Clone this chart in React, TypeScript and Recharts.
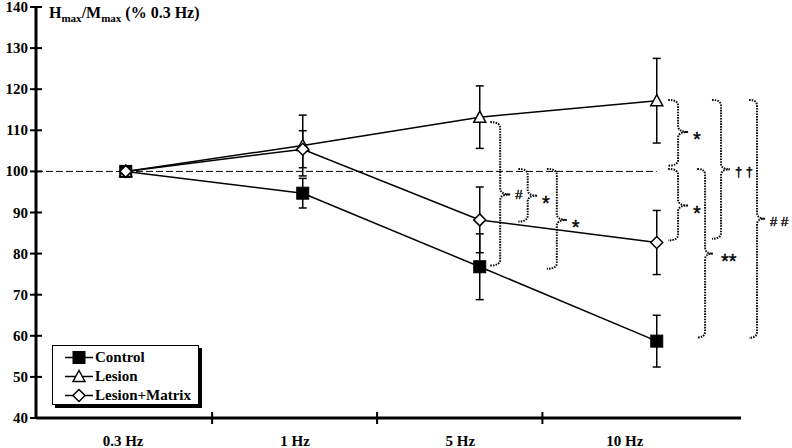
import React from "react"
import {
  LineChart,
  Line,
  XAxis,
  YAxis,
  ErrorBar,
  ReferenceLine,
  ReferenceArea,
  Legend,
  Customized,
} from "recharts"

// values (Hmax/Mmax as % of 0.3 Hz)
const frequencies = ["0.3 Hz", "1 Hz", "5 Hz", "10 Hz"]
const controlMean = [100, 94.7, 76.8, 58.7]
const controlSem = [0, 3.6, 8.0, 6.3]
const lesionMean = [100, 106.3, 113.2, 117.2]
const lesionSem = [0, 7.4, 7.6, 10.3]
const matrixMean = [100, 105.4, 88.2, 82.7]
const matrixSem = [0, 4.5, 8.0, 7.8]
const yTicks = [40, 50, 60, 70, 80, 90, 100, 110, 120, 130, 140]

// significance brackets: label, top value, bottom value, value at the tip
const braceLabels = ["#", "*", "*", "*", "*", "**", "† †", "# #"]
const braceTop = [112.0, 100.6, 100.6, 117.4, 100.6, 100.6, 117.4, 117.4]
const braceBottom = [77.1, 87.8, 76.3, 101.4, 83.2, 59.6, 83.6, 59.5]
const braceTip = [94.4, 94.1, 88.2, 109.6, 91.7, 80.0, 100.5, 88.5]

// layout (x axis units, 0 = first frequency)
const X_MIN = -0.507
const X_MAX = 3.476
const labelPos = [-0.015, 0.957, 1.89, 2.82]
const boundaryPos = [0.488, 1.42, 2.354]
const braceX = [
  [2.059, 2.172],
  [2.218, 2.324],
  [2.379, 2.492],
  [3.064, 3.177],
  [3.064, 3.177],
  [3.228, 3.318],
  [3.312, 3.414],
  [3.521, 3.612],
]

const SERIF = '"Liberation Serif", "Times New Roman", serif'
const SANS = '"Liberation Sans", Arial, sans-serif'

const rows = frequencies.map((f, i) => ({
  x: i,
  name: f,
  control: controlMean[i],
  controlErr: controlSem[i],
  lesion: lesionMean[i],
  lesionErr: lesionSem[i],
  matrix: matrixMean[i],
  matrixErr: matrixSem[i],
}))

const Square = (cx: number, cy: number) => (
  <rect x={cx - 6} y={cy - 6} width={12} height={12} fill="#000" stroke="#000" />
)
const Triangle = (cx: number, cy: number) => (
  <path
    d={`M${cx},${cy - 6} L${cx + 6},${cy + 5} L${cx - 6},${cy + 5} Z`}
    fill="#fff"
    stroke="#000"
    strokeWidth={1.5}
  />
)
const Diamond = (cx: number, cy: number) => (
  <path
    d={`M${cx},${cy - 6} L${cx + 6},${cy} L${cx},${cy + 6} L${cx - 6},${cy} Z`}
    fill="#fff"
    stroke="#000"
    strokeWidth={1.5}
  />
)

const markers: Record<string, (cx: number, cy: number) => React.ReactElement> = {
  Control: Square,
  Lesion: Triangle,
  "Lesion+Matrix": Diamond,
}

const dotFor = (name: string) => (props: any) => (
  <g key={`${name}-${props.index}`}>{markers[name](props.cx, props.cy)}</g>
)

const renderYTick = (props: any) => {
  const { x, y, payload } = props
  return (
    <g>
      <line x1={x - 6} x2={x + 6} y1={y} y2={y} stroke="#000" strokeWidth={2} />
      <text x={x - 8} y={y + 5} textAnchor="end" fontFamily={SERIF} fontWeight="bold" fontSize={15} fill="#000">
        {payload.value}
      </text>
    </g>
  )
}

const renderXTick = (props: any) => {
  const { x, y, payload } = props
  const bi = boundaryPos.indexOf(payload.value)
  if (bi >= 0) {
    return <line x1={x} x2={x} y1={y - 6} y2={y + 6} stroke="#000" strokeWidth={2} />
  }
  const li = labelPos.indexOf(payload.value)
  return (
    <text x={x} y={y + 28} textAnchor="middle" fontFamily={SERIF} fontWeight="bold" fontSize={15} fill="#000">
      {frequencies[li]}
    </text>
  )
}

const Brace = (props: any) => {
  const { x, y, width, height, i } = props
  const lx = x
  const rx = x + width
  const mx = lx + width * 0.5
  const by = y + height
  const py = y + ((braceTop[i] - braceTip[i]) / (braceTop[i] - braceBottom[i])) * height
  const r = 6
  const d =
    `M${lx},${y} Q${mx},${y} ${mx},${y + r} L${mx},${py - r} Q${mx},${py} ${rx},${py} ` +
    `M${rx},${py} Q${mx},${py} ${mx},${py + r} L${mx},${by - r} Q${mx},${by} ${lx},${by}`
  const label = braceLabels[i]
  const star = label.includes("*")
  const dy = star ? 14 : label.length > 1 ? 7 : 5
  return (
    <g>
      <path d={d} fill="none" stroke="#111" strokeWidth={2} strokeDasharray="1.6 1.1" />
      <text
        x={rx + (label === "**" ? 8 : 5)}
        y={py + dy}
        fontFamily={SANS}
        fontSize={star ? 20 : 13}
        fill="#000"
        stroke="#000"
        strokeWidth={0.4}
        style={{ whiteSpace: "pre" }}
      >
        {label}
      </text>
    </g>
  )
}

const Title = () => (
  <text x={49} y={18} fontFamily={SERIF} fontWeight="bold" fontSize={16} fill="#000">
    H<tspan fontSize={11} dy={4}>max</tspan>
    <tspan dy={-4}>/M</tspan>
    <tspan fontSize={11} dy={4}>max</tspan>
    <tspan dy={-4}> (% 0.3 Hz)</tspan>
  </text>
)

const LegendBox = (props: any) => {
  const payload = props.payload || []
  return (
    <div
      style={{
        width: 147,
        height: 60,
        boxSizing: "border-box",
        border: "1.5px solid #000",
        boxShadow: "3px 3px 0 #000",
        background: "#fff",
        paddingTop: 2,
      }}
    >
      {payload.map((entry: any) => (
        <div key={entry.value} style={{ display: "flex", alignItems: "center", height: 19 }}>
          <svg width={42} height={19} style={{ flex: "none" }}>
            <line x1={12} x2={40} y1={9.5} y2={9.5} stroke="#000" strokeWidth={1.5} />
            {markers[entry.value](26, 9.5)}
          </svg>
          <span style={{ fontFamily: SERIF, fontWeight: "bold", fontSize: 15, color: "#000" }}>{entry.value}</span>
        </div>
      ))}
    </div>
  )
}

export default function App() {
  return (
    <div style={{ position: "absolute", left: 0, top: 0, width: 792, height: 448, background: "#fff" }}>
      <LineChart width={792} height={448} data={rows} margin={{ top: 7, right: 51, bottom: 0, left: 0 }}>
        <XAxis
          type="number"
          dataKey="x"
          domain={[X_MIN, X_MAX]}
          allowDataOverflow
          ticks={[...labelPos, ...boundaryPos]}
          interval={0}
          height={30}
          axisLine={{ stroke: "#000", strokeWidth: 3 }}
          tickLine={false}
          tickSize={0}
          tickMargin={0}
          tick={renderXTick}
        />
        <YAxis
          type="number"
          domain={[40, 140]}
          ticks={yTicks}
          interval={0}
          width={36}
          axisLine={{ stroke: "#000", strokeWidth: 3 }}
          tickLine={false}
          tickSize={0}
          tickMargin={0}
          tick={renderYTick}
        />
        <ReferenceLine
          segment={[
            { x: X_MIN, y: 100 },
            { x: 3, y: 100 },
          ]}
          stroke="#000"
          strokeWidth={1}
          strokeDasharray="7 3"
        />
        {braceLabels.map((_, i) => (
          <ReferenceArea
            key={i}
            x1={braceX[i][0]}
            x2={braceX[i][1]}
            y1={braceBottom[i]}
            y2={braceTop[i]}
            ifOverflow="visible"
            shape={(p: any) => <Brace {...p} i={i} />}
          />
        ))}
        <Line
          dataKey="control"
          name="Control"
          type="linear"
          stroke="#000"
          strokeWidth={1.5}
          dot={dotFor("Control")}
          activeDot={false}
          isAnimationActive={false}
        >
          <ErrorBar dataKey="controlErr" direction="y" width={4} stroke="#000" strokeWidth={1.5} />
        </Line>
        <Line
          dataKey="lesion"
          name="Lesion"
          type="linear"
          stroke="#000"
          strokeWidth={1.5}
          dot={dotFor("Lesion")}
          activeDot={false}
          isAnimationActive={false}
        >
          <ErrorBar dataKey="lesionErr" direction="y" width={4} stroke="#000" strokeWidth={1.5} />
        </Line>
        <Line
          dataKey="matrix"
          name="Lesion+Matrix"
          type="linear"
          stroke="#000"
          strokeWidth={1.5}
          dot={dotFor("Lesion+Matrix")}
          activeDot={false}
          isAnimationActive={false}
        >
          <ErrorBar dataKey="matrixErr" direction="y" width={4} stroke="#000" strokeWidth={1.5} />
        </Line>
        <Legend
          layout="vertical"
          align="center"
          verticalAlign="middle"
          content={<LegendBox />}
          wrapperStyle={{ position: "absolute", left: 52, top: 345, width: 147, height: 60 }}
        />
        <Customized component={Title} />
      </LineChart>
    </div>
  )
}
